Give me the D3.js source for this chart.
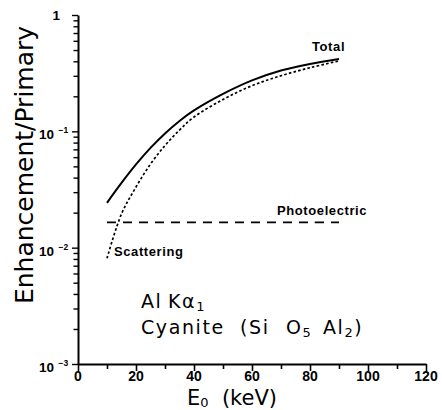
<!DOCTYPE html>
<html>
<head>
<meta charset="utf-8">
<script src="https://cdn.jsdelivr.net/npm/d3@7/dist/d3.min.js"></script>
<style>
  html, body { margin: 0; padding: 0; background: #fff; }
  svg { display: block; }
  .tick-label { font-family: "Liberation Sans", Arial, sans-serif; font-weight: bold; fill: #000; }
  .curve-label { font-family: "Liberation Sans", Arial, sans-serif; font-weight: bold; font-size: 13px; letter-spacing: 0.6px; fill: #000; }
  .note { font-family: "DejaVu Sans", sans-serif; font-size: 19px; letter-spacing: 1.6px; fill: #000; }
</style>
</head>
<body>
<script>
// Photon energy E0 (keV) at which each curve is sampled
const energy = [10, 15, 20, 25, 30, 35, 40, 50, 60, 70, 80, 90];
// Enhancement / primary intensity ratios
const total         = [0.0243, 0.0360, 0.0519, 0.0720, 0.0959, 0.1229, 0.1512, 0.2097, 0.2740, 0.3332, 0.3790, 0.4183];
const scattering    = [0.0081, 0.0195, 0.0332, 0.0523, 0.0755, 0.1026, 0.1327, 0.1877, 0.2466, 0.3007, 0.3522, 0.4031];
const photoelectric = [0.0165, 0.0165, 0.0165, 0.0165, 0.0165, 0.0165, 0.0165, 0.0165, 0.0165, 0.0165, 0.0165, 0.0165];

// Axis ticks
const xMajorTicks = [0, 20, 40, 60, 80, 100, 120];
const xMinorTicks = [10, 30, 50, 70, 90, 110];
const yDecades = [1, 0.1, 0.01, 0.001];
const yDecadeExponents = ["", "−1", "−2", "−3"];

const W = 442, H = 410;
const svg = d3.select("body").append("svg").attr("width", W).attr("height", H);

const x = d3.scaleLinear().domain([0, 120]).range([78, 426]);
const y = d3.scaleLog().domain([1e-3, 1]).range([364, 15]);

// ---- x axis: major ticks every 20 keV, minor ticks at the odd tens
const xAxis = d3.axisBottom(x)
  .tickValues(xMajorTicks.concat(xMinorTicks).sort((a, b) => a - b))
  .tickSize(7).tickSizeOuter(0).tickFormat("");
const gx = svg.append("g").attr("transform", `translate(0,${y(1e-3)})`).call(xAxis);
gx.select(".domain").attr("stroke", "#000").attr("stroke-width", 2);
gx.selectAll(".tick line")
  .attr("stroke", "#000").attr("stroke-width", 1.6)
  .attr("y2", d => xMinorTicks.includes(d) ? 5 : 7);

svg.append("g").selectAll("text").data(xMajorTicks).join("text")
  .attr("class", "tick-label")
  .attr("x", d => x(d)).attr("y", 381)
  .attr("text-anchor", "middle").attr("font-size", 14)
  .text(d => d);

// ---- y axis: log scale, ticks on every 1..9 multiple
const yTickVals = [];
[1e-3, 1e-2, 1e-1].forEach(b => { for (let k = 1; k < 10; k++) yTickVals.push(b * k); });
yTickVals.push(1);
const yAxis = d3.axisLeft(y).tickValues(yTickVals).tickSize(6).tickSizeOuter(0).tickFormat("");
const gy = svg.append("g").attr("transform", `translate(${x(0)},0)`).call(yAxis);
gy.select(".domain").attr("stroke", "#000").attr("stroke-width", 2);
gy.selectAll(".tick line")
  .attr("stroke", "#000").attr("stroke-width", 1.4)
  .attr("x2", d => yDecades.some(v => Math.abs(v - d) / d < 1e-6) ? -6 : -4.5);

// decade labels written as 10 with a raised exponent
yDecades.forEach((v, i) => {
  const yy = y(v);
  if (yDecadeExponents[i] === "") {
    svg.append("text").attr("class", "tick-label")
      .attr("x", 60).attr("y", yy + 4.5)
      .attr("text-anchor", "end").attr("font-size", 13.5).text("1");
  } else {
    svg.append("text").attr("class", "tick-label")
      .attr("x", 54).attr("y", yy + 8)
      .attr("text-anchor", "end").attr("font-size", 13.5).text("10");
    svg.append("text").attr("class", "tick-label")
      .attr("x", 58.5).attr("y", yy + 2)
      .attr("font-size", 8.5).text(yDecadeExponents[i]);
  }
});

// ---- axis titles
svg.append("text")
  .attr("transform", `translate(33,165) rotate(-90)`)
  .attr("text-anchor", "middle")
  .attr("font-family", "DejaVu Sans, sans-serif")
  .attr("font-size", 25)
  .text("Enhancement/Primary");

const xt = svg.append("text")
  .attr("x", 187).attr("y", 405)
  .attr("font-family", "DejaVu Sans, sans-serif")
  .attr("font-size", 21);
xt.append("tspan").text("E");
xt.append("tspan").attr("font-size", 13).attr("dy", 2).text("0");
xt.append("tspan").attr("dy", -2).text("\u00a0\u00a0(keV)");

// ---- curves
const line = d3.line()
  .x(d => x(d[0]))
  .y(d => y(d[1]))
  .curve(d3.curveCatmullRom.alpha(0.5));

const pts = vals => energy.map((e, i) => [e, vals[i]]);

svg.append("path").datum(pts(photoelectric))
  .attr("d", line).attr("fill", "none")
  .attr("stroke", "#000").attr("stroke-width", 1.8)
  .attr("stroke-dasharray", "9,7");

svg.append("path").datum(pts(scattering))
  .attr("d", line).attr("fill", "none")
  .attr("stroke", "#000").attr("stroke-width", 1.7)
  .attr("stroke-dasharray", "2.6,2.2");

svg.append("path").datum(pts(total))
  .attr("d", line).attr("fill", "none")
  .attr("stroke", "#000").attr("stroke-width", 2);

// ---- curve labels
svg.append("text").attr("class", "curve-label").attr("x", 312).attr("y", 51).text("Total");
svg.append("text").attr("class", "curve-label").attr("x", 277).attr("y", 215).text("Photoelectric");
svg.append("text").attr("class", "curve-label").attr("x", 114).attr("y", 256).text("Scattering");

// ---- line / specimen annotation
const n1 = svg.append("g");
n1.append("text").attr("class", "note").attr("x", 141).attr("y", 308).text("Al");
const ka = n1.append("text").attr("class", "note").attr("x", 168).attr("y", 308);
ka.append("tspan").text("Kα");
ka.append("tspan").attr("font-size", 13).attr("dy", 3).text("1");

const n2 = svg.append("g");
n2.append("text").attr("class", "note").attr("x", 141).attr("y", 334).text("Cyanite");
n2.append("text").attr("class", "note").attr("x", 240).attr("y", 334).text("(Si");
const o5 = n2.append("text").attr("class", "note").attr("x", 286).attr("y", 334);
o5.append("tspan").text("O");
o5.append("tspan").attr("font-size", 13).attr("dy", 3).text("5");
const al2 = n2.append("text").attr("class", "note").attr("x", 323).attr("y", 334);
al2.append("tspan").text("Al");
al2.append("tspan").attr("font-size", 13).attr("dy", 3).text("2");
al2.append("tspan").attr("dy", -3).text(")");
</script>
</body>
</html>
